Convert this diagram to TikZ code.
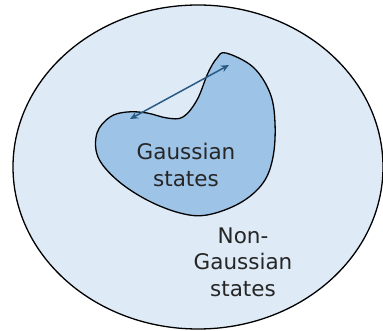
\documentclass[tikz,border=0pt]{standalone}
\usepackage{fontspec}
\setmainfont{DejaVu Sans}
\usetikzlibrary{arrows.meta}
\definecolor{outerblue}{HTML}{DEEAF6}
\definecolor{innerblue}{HTML}{9DC3E6}
\definecolor{arrowblue}{HTML}{2A5A86}
\begin{document}
\begin{tikzpicture}[x=1pt, y=-1pt,
    region/.style={draw=black, line width=1.3pt},
    label/.style={align=center, font=\fontsize{21.5}{26.5}\selectfont, text=black!85}]

  \useasboundingbox (0,0) rectangle (383,331);

  % outer set: non-Gaussian states
  \draw[region, fill=outerblue] (198,167) ellipse [x radius=185, y radius=162];

  % inner set: Gaussian states
  \draw[region, fill=innerblue] plot[smooth cycle, tension=0.6] coordinates {
      (226,53) (253,67) (270,93) (275,123) (273,157) (263,183)
      (240,203) (207,215) (180,213) (147,200) (117,180) (98,157)
      (97,133) (110,117) (127,112) (147,113) (167,118) (183,117)
      (197,100) (208,73) (217,58)};

  % labels
  \node[label] (gauss) at (186,165) {Gaussian\\states};
  \node[label] (nongauss) at (243,262) {Non-\\Gaussian\\states};

  % double arrow across the concave part
  \coordinate (p) at (130,119);
  \coordinate (q) at (229,65);
  \draw[arrowblue, line width=1.5pt, {Stealth[length=8pt, width=7pt]}-{Stealth[length=8pt, width=7pt]}] (p) -- (q);

\end{tikzpicture}
\end{document}
